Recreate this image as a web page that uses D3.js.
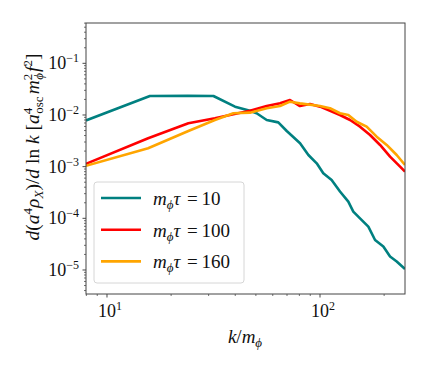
<!DOCTYPE html>
<html>
<head>
<meta charset="utf-8">
<script src="https://cdn.jsdelivr.net/npm/d3@7"></script>
<style>
  body { margin: 0; background: #fff; }
  svg text { font-family: "Liberation Serif", "DejaVu Serif", serif; fill: #111; }
</style>
</head>
<body>
<svg id="chart" width="425" height="370"></svg>
<script>
/* data */
var kTeal = [7.96, 15.9, 24.0, 31.6, 39.9, 46.9, 50.4, 56.2, 63.7, 69.8, 80.6, 88.2, 96.5, 103.6, 113.4, 124.1, 135.8, 143.3, 154.1, 168.6, 181.3, 198.3, 213.2, 229.1, 250.6];
var vTeal = [7.8e-3, 2.33e-2, 2.34e-2, 2.33e-2, 1.45e-2, 1.21e-2, 1.08e-2, 8.0e-3, 7.2e-3, 4.9e-3, 2.84e-3, 1.68e-3, 1.16e-3, 7.45e-4, 5.5e-4, 3.3e-4, 2.1e-4, 1.35e-4, 1.0e-4, 6.9e-5, 3.8e-5, 2.84e-5, 1.82e-5, 1.46e-5, 1.04e-5];

var kRed = [7.96, 15.6, 24.1, 32.1, 39.2, 46.9, 56.2, 64.9, 72.3, 80.5, 89.7, 100, 111.4, 124.1, 138.4, 154.1, 171.8, 191.4, 213.2, 237.6, 250.6];
var vRed = [1.13e-3, 3.54e-3, 6.9e-3, 8.63e-3, 1.03e-2, 1.21e-2, 1.49e-2, 1.68e-2, 1.95e-2, 1.49e-2, 1.63e-2, 1.45e-2, 1.21e-2, 1.0e-2, 8.0e-3, 5.94e-3, 4.1e-3, 2.63e-3, 1.56e-3, 1.0e-3, 8.0e-4];

var kOrange = [7.96, 15.6, 24.1, 32.1, 39.2, 46.9, 56.2, 64.9, 72.3, 80.5, 100, 111.4, 124.1, 135.8, 148.6, 165.6, 184.5, 205.6, 229.1, 250.6];
var vOrange = [1.04e-3, 2.27e-3, 4.9e-3, 8.0e-3, 1.08e-2, 1.11e-2, 1.35e-2, 1.49e-2, 1.81e-2, 1.68e-2, 1.49e-2, 1.35e-2, 1.08e-2, 1.0e-2, 7.41e-3, 5.94e-3, 3.8e-3, 2.63e-3, 1.68e-3, 1.08e-3];

var seriesNames = ["10", "100", "160"];
var seriesColors = ["#008080", "#ff0000", "#ffa500"];

var xTicks = [10, 100];
var xTickExp = ["1", "2"];
var yTicks = [1e-1, 1e-2, 1e-3, 1e-4, 1e-5];
var yTickExp = ["\u22121", "\u22122", "\u22123", "\u22124", "\u22125"];

/* layout */
var margin = { left: 86, top: 23, right: 20, bottom: 76 },
    width = 425, height = 370,
    innerWidth = width - margin.left - margin.right,
    innerHeight = height - margin.top - margin.bottom;

var svg = d3.select("#chart");

// scales in page coordinates, so every text can sit directly on the svg
var xScale = d3.scaleLog().domain([7.97, 250.6]).range([margin.left, margin.left + innerWidth]);
var yScale = d3.scaleLog().domain([0.603, 3.43e-6]).range([margin.top, margin.top + innerHeight]);
var x0 = margin.left, y0 = margin.top + innerHeight;

/* minor ticks */
var xMinor = [8, 9, 20, 30, 40, 50, 60, 70, 80, 90, 200];
var yMinor = [];
[1e-6, 1e-5, 1e-4, 1e-3, 1e-2, 1e-1].forEach(function (d) {
  for (var i = 2; i <= 9; i++) {
    var v = d * i;
    if (v >= 3.43e-6 && v <= 0.603) yMinor.push(v);
  }
});

svg.selectAll(".xminor").data(xMinor).enter().append("line")
  .attr("x1", function (d) { return xScale(d); }).attr("x2", function (d) { return xScale(d); })
  .attr("y1", y0).attr("y2", y0 + 2)
  .attr("stroke", "#333").attr("stroke-width", 0.7);
svg.selectAll(".yminor").data(yMinor).enter().append("line")
  .attr("x1", x0).attr("x2", x0 - 2)
  .attr("y1", function (d) { return yScale(d); }).attr("y2", function (d) { return yScale(d); })
  .attr("stroke", "#333").attr("stroke-width", 0.7);

/* major ticks + labels */
svg.selectAll(".xmajor").data(xTicks).enter().append("line")
  .attr("x1", function (d) { return xScale(d); }).attr("x2", function (d) { return xScale(d); })
  .attr("y1", y0).attr("y2", y0 + 3.5)
  .attr("stroke", "#333").attr("stroke-width", 0.9);
svg.selectAll(".ymajor").data(yTicks).enter().append("line")
  .attr("x1", x0).attr("x2", x0 - 3.5)
  .attr("y1", function (d) { return yScale(d); }).attr("y2", function (d) { return yScale(d); })
  .attr("stroke", "#333").attr("stroke-width", 0.9);

var xl = svg.selectAll(".xlab").data(xTicks).enter().append("text")
  .attr("x", function (d) { return xScale(d) + 3; })
  .attr("y", y0 + 23)
  .attr("text-anchor", "middle")
  .style("font-size", "18px");
xl.append("tspan").text("10");
xl.append("tspan").attr("dy", -7).style("font-size", "12px").text(function (d, i) { return xTickExp[i]; });

var yl = svg.selectAll(".ylab").data(yTicks).enter().append("text")
  .attr("x", x0 - 7)
  .attr("y", function (d) { return yScale(d) + 6; })
  .attr("text-anchor", "end")
  .style("font-size", "18px");
yl.append("tspan").text("10");
yl.append("tspan").attr("dy", -7).style("font-size", "12px").text(function (d, i) { return yTickExp[i]; });

/* lines */
var line = d3.line()
  .x(function (d) { return xScale(d[0]); })
  .y(function (d) { return yScale(d[1]); });

svg.append("clipPath").attr("id", "plot-area")
  .append("rect").attr("x", x0).attr("y", margin.top).attr("width", innerWidth).attr("height", innerHeight);

var series = [
  d3.zip(kTeal, vTeal),
  d3.zip(kRed, vRed),
  d3.zip(kOrange, vOrange)
];
svg.append("g").attr("clip-path", "url(#plot-area)")
  .selectAll("path").data(series).enter().append("path")
  .attr("d", line)
  .attr("fill", "none")
  .attr("stroke", function (d, i) { return seriesColors[i]; })
  .attr("stroke-width", 2.6)
  .attr("stroke-linejoin", "round");

/* frame */
svg.append("rect").attr("x", x0).attr("y", margin.top).attr("width", innerWidth).attr("height", innerHeight)
  .attr("fill", "none").attr("stroke", "#444").attr("stroke-width", 1);

/* legend */
var lx = 94, ly = 182;
svg.append("rect").attr("x", lx).attr("y", ly).attr("width", 150).attr("height", 101).attr("rx", 3)
  .attr("fill", "#fff").attr("fill-opacity", 0.8)
  .attr("stroke", "#d6d6d6").attr("stroke-width", 1);
svg.selectAll(".legline").data(seriesNames).enter().append("line")
  .attr("x1", lx + 7).attr("x2", lx + 47)
  .attr("y1", function (d, i) { return ly + 16 + i * 31.7; })
  .attr("y2", function (d, i) { return ly + 16 + i * 31.7; })
  .attr("stroke", function (d, i) { return seriesColors[i]; }).attr("stroke-width", 2.6);
var lt = svg.selectAll(".legtext").data(seriesNames).enter().append("text")
  .attr("x", lx + 59)
  .attr("y", function (d, i) { return ly + 23 + i * 31.7; })
  .style("font-size", "19px");
lt.append("tspan").style("font-style", "italic").text("m");
lt.append("tspan").attr("dy", 4).style("font-style", "italic").style("font-size", "13px").text("\u03d5");
lt.append("tspan").attr("dy", -4).style("font-style", "italic").text("\u03c4");
lt.append("tspan").text(function (d) { return "\u2009=\u2009" + d; }).attr("dx", 3);

/* x-axis label */
var xt = svg.append("text").attr("x", 245).attr("y", 343).attr("text-anchor", "middle").style("font-size", "19px");
xt.append("tspan").style("font-style", "italic").text("k");
xt.append("tspan").text("/");
xt.append("tspan").style("font-style", "italic").text("m");
xt.append("tspan").attr("dy", 4).style("font-style", "italic").style("font-size", "13px").text("\u03d5");

/* y-axis label */
var yt = svg.append("text")
  .attr("transform", "translate(39,147) rotate(-90)")
  .attr("text-anchor", "middle").style("font-size", "19.5px");
yt.append("tspan").style("font-style", "italic").text("d");
yt.append("tspan").text("(");
yt.append("tspan").style("font-style", "italic").text("a");
yt.append("tspan").attr("dy", -7).style("font-size", "13px").text("4");
yt.append("tspan").attr("dy", 7).style("font-style", "italic").text("\u03c1");
yt.append("tspan").attr("dy", 4).style("font-style", "italic").style("font-size", "13px").text("X");
yt.append("tspan").attr("dy", -4).text(")/");
yt.append("tspan").style("font-style", "italic").text("d");
yt.append("tspan").text(" ln ");
yt.append("tspan").style("font-style", "italic").text("k");
yt.append("tspan").text(" [");
yt.append("tspan").style("font-style", "italic").text("a");
yt.append("tspan").attr("dy", -7).style("font-size", "13px").text("4");
yt.append("tspan").attr("dy", 11).attr("dx", -6).style("font-size", "13px").text("osc");
yt.append("tspan").attr("dy", -4).attr("dx", 2).style("font-style", "italic").text("m");
yt.append("tspan").attr("dy", -7).style("font-size", "13px").text("2");
yt.append("tspan").attr("dy", 11).attr("dx", -6).style("font-style", "italic").style("font-size", "13px").text("\u03d5");
yt.append("tspan").attr("dy", -4).attr("dx", 1).style("font-style", "italic").text("f");
yt.append("tspan").attr("dy", -7).style("font-size", "13px").text("2");
yt.append("tspan").attr("dy", 7).text("]");
</script>
</body>
</html>
